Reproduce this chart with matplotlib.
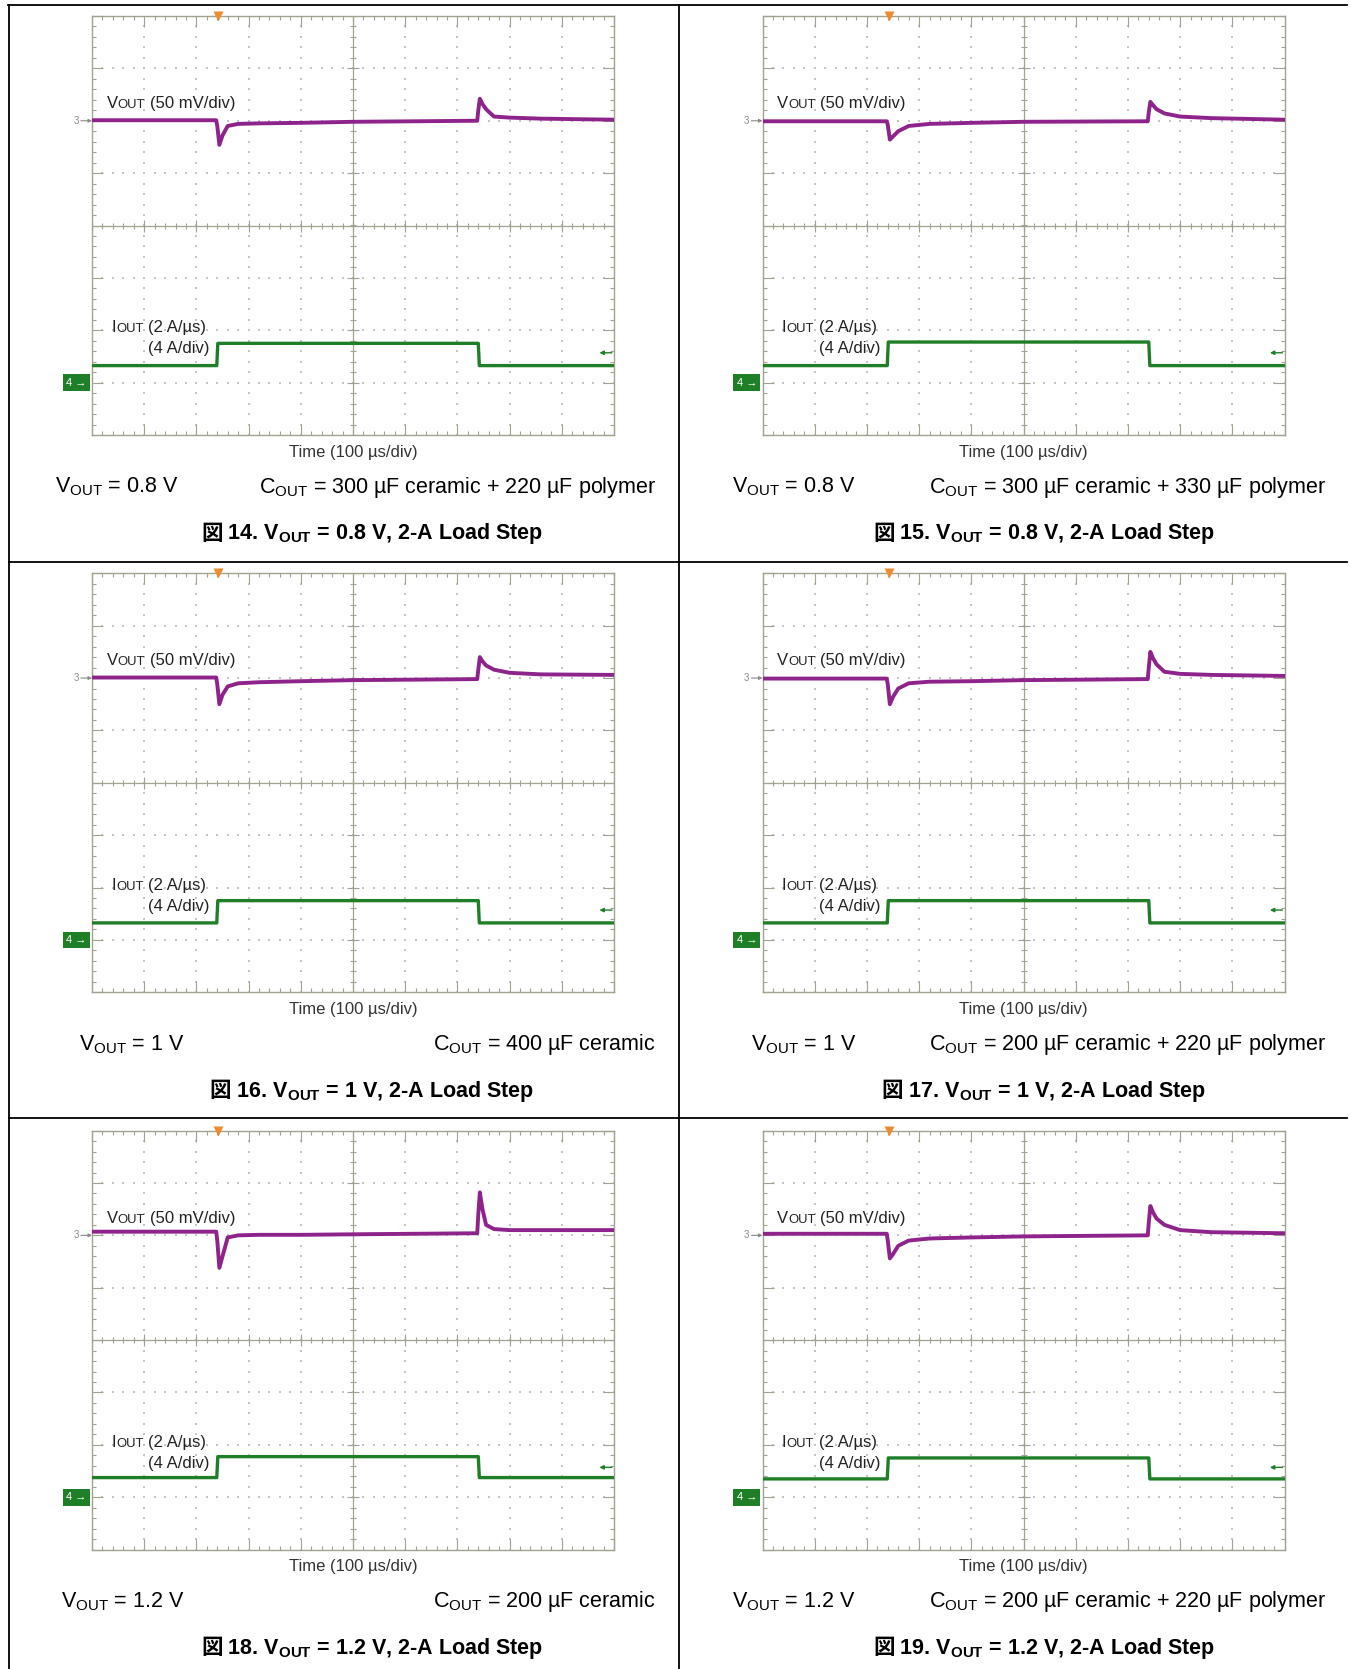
import numpy as np
import matplotlib
matplotlib.use("Agg")
import matplotlib.pyplot as plt
from matplotlib.lines import Line2D

plt.rcParams['font.family'] = ['Liberation Sans', 'DejaVu Sans']
plt.rcParams['mathtext.default'] = 'regular'

# ---- data read off the six scope shots ----
# time in us (100 us/div), Vout in mV from the ch3 marker (50 mV/div),
# Iout in A from the ch4 marker (4 A/div)
FIG_NUMS = [14, 15, 16, 17, 18, 19]
VOUT_SET = ['0.8 V', '0.8 V', '1 V', '1 V', '1.2 V', '1.2 V']
COUT_SET = ['300 µF ceramic + 220 µF polymer',
            '300 µF ceramic + 330 µF polymer',
            '400 µF ceramic',
            '200 µF ceramic + 220 µF polymer',
            '200 µF ceramic',
            '200 µF ceramic + 220 µF polymer']

TRIG_US = 242

VOUT_T = [0, 238, 240, 244, 250, 260, 280, 320, 400, 500, 738, 740, 743, 748, 755, 770, 800, 860, 1000]
VOUT_14 = [0.5, 0.5, -5, -23, -14, -5, -3, -2.5, -2, -1, 0, 10, 21, 16, 11, 4, 3, 2, 1]
VOUT_15 = [-0.5, -0.5, -4, -18, -15, -10, -5, -3, -2, -1, -0.5, 8, 18, 15, 11, 7, 4, 2.5, 1]
VOUT_16 = [0.5, 0.5, -6, -25, -16, -8, -5, -4, -3, -2, -1, 8, 20, 16, 12, 8, 5, 3.5, 3]
VOUT_17 = [-0.5, -0.5, -6, -25, -18, -10, -5, -3.5, -3, -2, -1, 10, 25, 19, 13, 6, 4, 3, 2]
VOUT_18 = [3.5, 3.5, -5, -31, -20, -2, 0, 0.5, 0.5, 1, 2, 20, 41, 25, 10, 6, 5, 5, 5]
VOUT_19 = [1.5, 1.5, -5, -22, -18, -10, -5, -3, -2, -1, 0, 12, 28, 22, 16, 10, 5, 3, 2]

IOUT_T = [0, 239, 241, 740, 742, 1000]
IOUT_14 = [1.3, 1.3, 3.0, 3.0, 1.3, 1.3]
IOUT_15 = [1.3, 1.3, 3.1, 3.1, 1.3, 1.3]
IOUT_16 = [1.3, 1.3, 3.0, 3.0, 1.3, 1.3]
IOUT_17 = [1.3, 1.3, 3.0, 3.0, 1.3, 1.3]
IOUT_18 = [1.5, 1.5, 3.1, 3.1, 1.5, 1.5]
IOUT_19 = [1.4, 1.4, 3.0, 3.0, 1.4, 1.4]

VOUTS = [VOUT_14, VOUT_15, VOUT_16, VOUT_17, VOUT_18, VOUT_19]
IOUTS = [IOUT_14, IOUT_15, IOUT_16, IOUT_17, IOUT_18, IOUT_19]

MV_PER_DIV = 50.0
A_PER_DIV = 4.0
CH3_REF = 2.0
CH4_REF = -3.0

# ---- layout (pixels of the 1351x1669 page) ----
W, H = 1351, 1669
VOUT_X = [55, 732.5, 79, 750.6, 60.7, 732.5]
CAP_X = [201, 873, 209.7, 881.5, 201, 873]

FRAME = '#a3a290'
DOTS = '#c4c4c4'
PURPLE = '#8e238c'
GREEN = '#1f7f27'
LBL = '#222222'


def fx(x):
    return x / W


def fy(y):
    return 1 - y / H


fig = plt.figure(figsize=(W / 100, H / 100), dpi=100)

# table rules
for x0, y0, x1, y1 in [(8, 5, 1347, 5), (8.5, 5, 8.5, H), (679, 5, 679, H),
                       (8.5, 562, 1347, 562), (8.5, 1118, 1347, 1118)]:
    fig.add_artist(Line2D([fx(x0), fx(x1)], [fy(y0), fy(y1)], transform=fig.transFigure,
                          color='black', lw=1.3))


def smallcaps(ax, x, y, big, small, rest, size=12):
    t1 = ax.annotate(big, xy=(x, y), xycoords='data', ha='left', va='baseline',
                     fontsize=size, color=LBL, zorder=4)
    t2 = ax.annotate(small, xy=(1, y), xycoords=(t1, 'data'), ha='left', va='baseline',
                     fontsize=size * 0.78, color=LBL, zorder=4)
    ax.annotate(rest, xy=(1, y), xycoords=(t2, 'data'), xytext=(size * 0.28, 0),
                textcoords='offset points', ha='left', va='baseline', fontsize=size, color=LBL,
                zorder=4)


for i in range(6):
    c, r = i % 2, i // 2
    left = 92 + 670.5 * c
    top = 16 + 557.3 * r
    bottom = top + 419
    ax = fig.add_axes([fx(left), fy(bottom), 522 / W, 419 / H])
    ax.set_xlim(0, 1000)
    ax.set_ylim(-4, 4)
    for s in ax.spines.values():
        s.set_color(FRAME)
        s.set_linewidth(1.0)
    ax.set_xticks(np.arange(0, 1001, 100))
    ax.set_xticks(np.arange(0, 1001, 20), minor=True)
    ax.set_yticks(np.arange(-4, 5, 1))
    ax.set_yticks(np.arange(-4, 4.01, 0.2), minor=True)
    ax.tick_params(which='both', direction='in', top=True, right=True,
                   labelbottom=False, labelleft=False, color=FRAME, width=0.8)
    ax.tick_params(which='major', length=8)
    ax.tick_params(which='minor', length=3.2)

    # dotted graticule
    gx = [x for x in range(100, 1000, 100) if x != 500]
    gy = [y for y in range(-3, 4) if y != 0]
    px, py = [], []
    for x in gx:
        yy = np.arange(-4, 4.001, 0.2)
        px += [x] * len(yy)
        py += list(yy)
    for y in gy:
        xx = np.arange(0, 1000.1, 20)
        px += list(xx)
        py += [y] * len(xx)
    ax.scatter(px, py, s=1.6, color=DOTS, marker='s', linewidths=0, zorder=1)

    # centre cross with ticks
    ax.axhline(0, color=FRAME, lw=0.9, zorder=1)
    ax.axvline(500, color=FRAME, lw=0.9, zorder=1)
    xm = np.arange(0, 1001, 20)
    ax.plot(xm, np.zeros_like(xm), ls='none', marker='|', ms=4.5, mew=0.8, color=FRAME, zorder=1)
    ax.plot(np.arange(0, 1001, 100), np.zeros(11), ls='none', marker='|', ms=9, mew=0.8,
            color=FRAME, zorder=1)
    ym = np.arange(-4, 4.01, 0.2)
    ax.plot(np.full_like(ym, 500), ym, ls='none', marker='_', ms=4.5, mew=0.8, color=FRAME, zorder=1)
    ax.plot(np.full(9, 500), np.arange(-4, 5, 1), ls='none', marker='_', ms=9, mew=0.8,
            color=FRAME, zorder=1)

    # traces
    ax.plot(VOUT_T, CH3_REF + np.array(VOUTS[i]) / MV_PER_DIV, color=PURPLE, lw=2.8, zorder=3)
    ax.plot(IOUT_T, CH4_REF + np.array(IOUTS[i]) / A_PER_DIV, color=GREEN, lw=2.4, zorder=3)

    # markers
    ax.plot([TRIG_US], [4.0], marker='v', ms=7, color='#f08a30', mec='none',
            clip_on=False, zorder=5)
    ax.annotate('3', xy=(0, CH3_REF), xycoords=('axes fraction', 'data'), xytext=(-9.5, 0),
                textcoords='offset points', ha='right', va='center', fontsize=7, color='#8a8a8a')
    ax.annotate('', xy=(0, CH3_REF), xycoords=('axes fraction', 'data'), xytext=(-8, 0),
                textcoords='offset points',
                arrowprops=dict(arrowstyle='-|>', color='#8a8a8a', lw=0.8, mutation_scale=5,
                                shrinkA=0, shrinkB=0))
    ax.annotate('4 →', xy=(0, CH4_REF), xycoords=('axes fraction', 'data'), xytext=(-4, 0),
                textcoords='offset points', ha='right', va='center', fontsize=8, color='white',
                bbox=dict(boxstyle='square,pad=0.3', fc=GREEN, ec='none'))
    ax.annotate('', xy=(972, -2.43), xytext=(996, -2.43),
                arrowprops=dict(arrowstyle='-|>', color=GREEN, lw=1.0, mutation_scale=6,
                                shrinkA=0, shrinkB=0))

    # channel labels
    smallcaps(ax, 28, 2.24, 'V', 'OUT', '(50 mV/div)')
    smallcaps(ax, 37, -2.04, 'I', 'OUT', '(2 A/µs)')
    ax.text(226, -2.44, '(4 A/div)', ha='right', va='baseline', fontsize=12, color=LBL, zorder=4)

    # texts under the screen
    fig.text(fx(left + 261), fy(bottom + 17), 'Time (100 µs/div)', ha='center', va='center',
             fontsize=12, color='#333333')
    fig.text(fx(VOUT_X[i]), fy(bottom + 57.7), r'V$_{OUT}$ = ' + VOUT_SET[i], ha='left',
             va='baseline', fontsize=15.5, color='black')
    fig.text(fx(left + 564), fy(bottom + 57.7), r'C$_{OUT}$ = ' + COUT_SET[i], ha='right',
             va='baseline', fontsize=15.5, color='black')
    zu = fig.text(fx(CAP_X[i]), fy(bottom + 104.5), '図', ha='left', va='baseline',
                  fontsize=15.5, fontweight='bold', family=['Noto Sans CJK JP', 'DejaVu Sans'])
    ax.annotate(' %d. V$_{OUT}$ = %s, 2-A Load Step' % (FIG_NUMS[i], VOUT_SET[i]),
                xy=(1, fy(bottom + 104.5)), xycoords=(zu, 'figure fraction'),
                ha='left', va='baseline', fontsize=15.5, fontweight='bold', color='black')

fig.savefig('out.png', dpi=100)
